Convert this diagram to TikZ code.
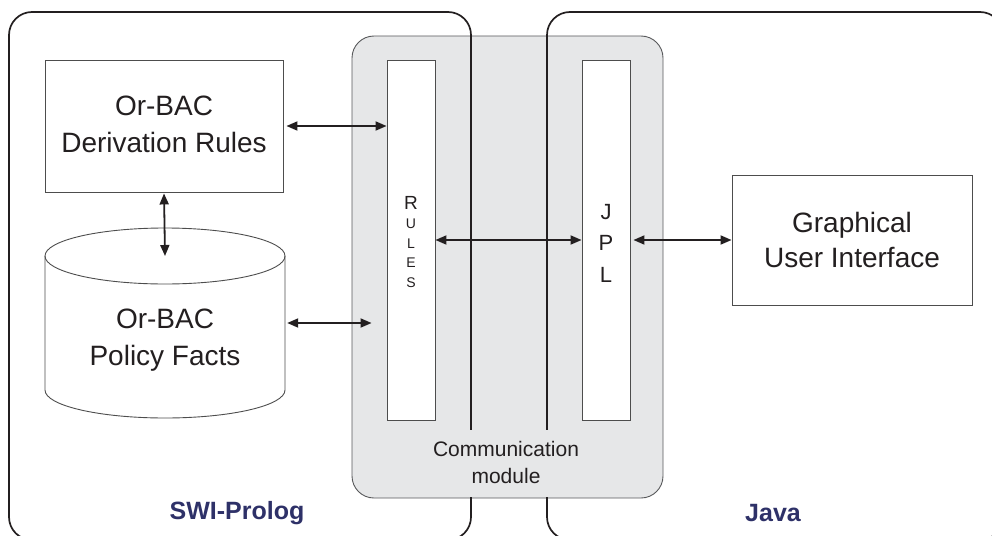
\documentclass[tikz,border=0pt]{standalone}
\usepackage{fontspec}
\setmainfont{Liberation Sans}
\usetikzlibrary{arrows.meta}
\definecolor{ink}{RGB}{35,31,32}
\definecolor{cmfill}{RGB}{230,231,232}
\definecolor{cmline}{RGB}{88,89,91}
\definecolor{boxline}{RGB}{77,77,77}
\definecolor{navy}{RGB}{46,49,104}
\begin{document}
\begin{tikzpicture}[x=1pt,y=-1pt,
  frame/.style={draw=ink, line width=1.7pt, rounded corners=23pt},
  cmbox/.style={draw=cmline, fill=cmfill, line width=0.9pt, rounded corners=22pt, minimum width=311pt, minimum height=462pt, inner sep=0pt},
  colbox/.style={draw=boxline, fill=white, line width=0.9pt, minimum width=48pt, minimum height=360pt, inner sep=0pt},
  sqbox/.style={draw=boxline, fill=white, line width=0.9pt, minimum width=238pt, minimum height=132pt, inner sep=0pt},
  lbl/.style={text=ink, align=center, font=\fontsize{28}{37}\selectfont, inner sep=0pt},
  platform/.style={text=navy, font=\fontsize{25}{30}\selectfont\bfseries, inner sep=0pt},
  link/.style={draw=ink, line width=1.8pt, {Triangle[length=11pt,width=9pt]}-{Triangle[length=11pt,width=9pt]}}
]
\useasboundingbox (0,0) rectangle (992,535);
\clip (0,0) rectangle (992,535);

% communication module
\node[cmbox] (cm) at (507.5,267) {};

% platform frames
\draw[frame] (9,12) rectangle (471,540);
\draw[frame] (547,12) rectangle (1003,540);
\fill[cmfill] (440,430) rectangle (580,497);

\node[text=ink, align=center, font=\fontsize{21}{27}\selectfont, inner sep=0pt] (cmtxt) at (506,462) {Communication\\module};

% columns
\node[colbox] (rules) at (411,240) {};
\node[text=ink, align=center, font=\fontsize{14}{19.5}\selectfont, inner sep=0pt] (rulestxt) at (411,242)
  {{\fontsize{19}{19.5}\selectfont R}\\U\\L\\E\\S};
\node[colbox] (jpl) at (606,240) {};
\node[text=ink, align=center, font=\fontsize{22}{31.5}\selectfont, inner sep=0pt] (jpltxt) at (606,243) {J\\P\\L};

% derivation rules
\node[sqbox] (deriv) at (164,126) {};
\node[lbl] (derivtxt) at (164,124) {Or-BAC\\Derivation Rules};

% policy facts cylinder
\draw[draw=boxline, fill=white, line width=0.9pt] (45,256) -- (45,390)
  arc[start angle=180, end angle=360, x radius=120pt, y radius=28pt] -- (285,256);
\draw[draw=boxline, line width=0.9pt] (165,256) ellipse [x radius=120pt, y radius=28pt];
\node[minimum width=240pt, minimum height=190pt, inner sep=0pt] (cyl) at (165,323) {};
\coordinate (cyltop) at (165,256);
\node[lbl] (factstxt) at (165,340) {Or-BAC\\Policy Facts};

% GUI
\node[sqbox, minimum width=240pt, minimum height=130pt] (gui) at (852,240) {};
\node[lbl, font=\fontsize{28}{35}\selectfont] (guitxt) at (852,240) {Graphical\\User Interface};

% platform labels
\node[platform] (swi) at (237,513) {SWI-Prolog};
\node[platform] (java) at (773,513) {Java};

% connectors
\draw[link, shorten <=3pt] (deriv.east) -- (rules.west |- deriv.east);
\draw[link, shorten <=1pt] (deriv.south) -- (cyltop);
\draw[link, shorten <=2pt, shorten >=15pt] (cyl.east) -- (rules.west |- cyl.east);
\draw[link] (rules.east) -- (jpl.west);
\draw[link, shorten <=3pt] (jpl.east) -- (gui.west);
\end{tikzpicture}
\end{document}
